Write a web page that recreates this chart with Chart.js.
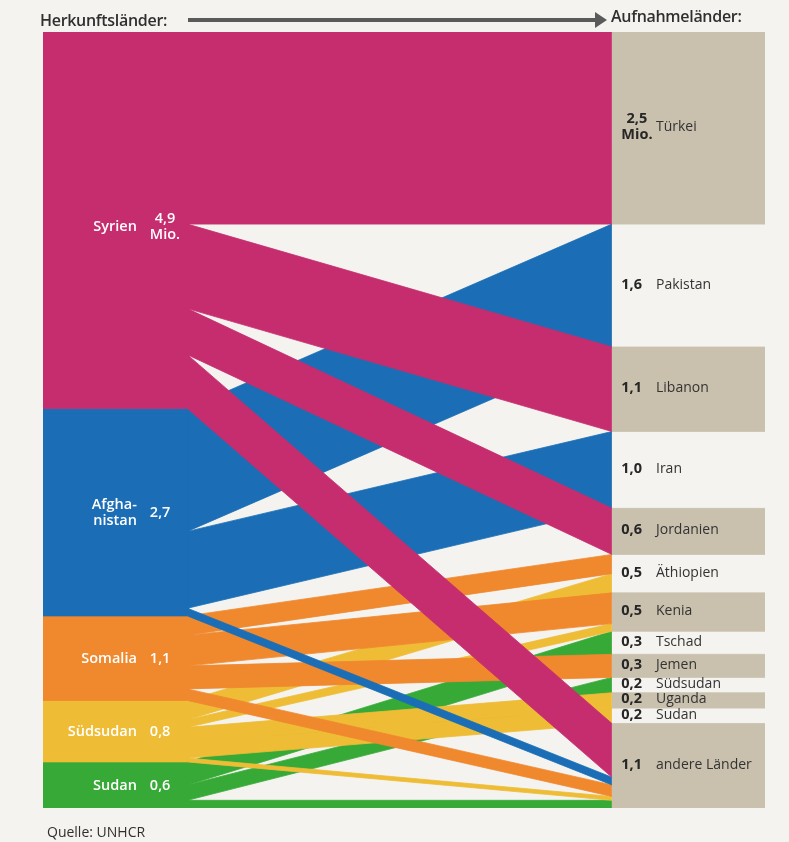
<!DOCTYPE html>
<html lang="de">
<head>
<meta charset="utf-8">
<title>Herkunftsländer und Aufnahmeländer</title>
<script src="https://cdn.jsdelivr.net/npm/chart.js@4.4.1/dist/chart.umd.min.js"></script>
<style>
  html, body { margin: 0; padding: 0; background: #f4f3ef; }
  #wrap {
    position: relative; width: 789px; height: 842px; overflow: hidden;
    font-family: 'Open Sans', 'Noto Sans', sans-serif;
  }
  #sankey { position: absolute; left: 0; top: 0; }
  #labels { position: absolute; left: 0; top: 0; width: 789px; height: 842px; pointer-events: none; }
  .hdr { position: absolute; top: 9px; font-size: 16px; font-weight: 600; color: #2f2f2f; letter-spacing: -0.3px; }
  .arrow { position: absolute; left: 188px; top: 18px; width: 408px; height: 4px; background: #5a5a5a; }
  .arrow::after {
    content: ''; position: absolute; right: -11px; top: -6px;
    border-left: 12px solid #5a5a5a; border-top: 8px solid transparent; border-bottom: 8px solid transparent;
  }
  .src { position: absolute; font-size: 14px; color: #2f2f2f; left: 47px; top: 822px; }
  .lbl { position: absolute; transform: translateY(-50%); line-height: 1.12; white-space: nowrap; }
  .l-name { color: #fff; font-size: 14.5px; font-weight: 600; text-align: right; }
  .l-val { color: #fff; font-size: 14.5px; font-weight: 600; text-align: center; }
  .r-val { color: #262626; font-size: 14.5px; font-weight: 700; text-align: center; }
  .r-name { color: #333; font-size: 14px; }
</style>
</head>
<body>
<div id="wrap">
  <canvas id="sankey" width="789" height="842"></canvas>
  <div id="labels"></div>
  <div class="hdr" style="left:40px">Herkunftsländer:</div>
  <div class="arrow"></div>
  <div class="hdr" style="left:611px; top:5px">Aufnahmeländer:</div>
  <div class="src">Quelle: UNHCR</div>
</div>
<script>
/* ── Data (Mio. Flüchtlinge) ── */
const sources = ['Syrien', 'Afghanistan', 'Somalia', 'Südsudan', 'Sudan'];
const sourceNameLines = [['Syrien'], ['Afgha-', 'nistan'], ['Somalia'], ['Südsudan'], ['Sudan']];
const sourceValues = [4.9, 2.7, 1.1, 0.8, 0.6];
const sourceValueLines = [['4,9', 'Mio.'], ['2,7'], ['1,1'], ['0,8'], ['0,6']];
const sourceColors = ['#c52d6e', '#1b6eb6', '#f0882d', '#eebd35', '#37a937'];

const targets = ['Türkei', 'Pakistan', 'Libanon', 'Iran', 'Jordanien', 'Äthiopien', 'Kenia',
    'Tschad', 'Jemen', 'Südsudan', 'Uganda', 'Sudan', 'andere Länder'];
const targetValues = [2.5, 1.6, 1.1, 1.0, 0.6, 0.5, 0.5, 0.3, 0.3, 0.2, 0.2, 0.2, 1.1];
const targetValueLines = [['2,5', 'Mio.'], ['1,6'], ['1,1'], ['1,0'], ['0,6'], ['0,5'], ['0,5'],
    ['0,3'], ['0,3'], ['0,2'], ['0,2'], ['0,2'], ['1,1']];

// flows, listed by source then by target
const flowFrom  = [0, 0, 0, 0,   1, 1, 1,   2, 2, 2, 2,      3, 3, 3, 3, 3,          4, 4, 4];
const flowTo    = [0, 2, 4, 12,  1, 3, 12,  5, 6, 8, 12,     5, 6, 10, 11, 12,       7, 9, 12];
const flowValue = [2.5, 1.1, 0.6, 0.7,  1.6, 1.0, 0.1,  0.25, 0.4, 0.3, 0.15,  0.25, 0.1, 0.2, 0.2, 0.05,  0.3, 0.2, 0.1];

/* ── Layout constants (x in column units 0..1) ── */
const X_FLOW_L = 0.2;     // right edge of origin blocks
const X_FLOW_R = 0.788;   // left edge of host boxes
const SEAM = 0.003;       // overlap so blocks and bands join without a hairline
const BOX_COLOR = '#c9c1ae';
const TOTAL = sourceValues.reduce((a, b) => a + b, 0);

function cumulative(values) {
    let acc = 0;
    return values.map(v => { const s = acc; acc += v; return s; });
}
const srcStart = cumulative(sourceValues);
const tgtStart = cumulative(targetValues);

// a filled band = upper edge line + lower edge line filled to it
function band(x0, x1, top0, top1, bot0, bot1, color, order) {
    const base = { borderColor: color, borderWidth: 0.8, pointRadius: 0, order };
    return [
        { ...base, data: [{ x: x0, y: top0 }, { x: x1, y: top1 }], fill: false },
        { ...base, data: [{ x: x0, y: bot0 }, { x: x1, y: bot1 }], fill: '-1', backgroundColor: color }
    ];
}

function buildDatasets() {
    const sets = [];
    // host boxes (every other one beige)
    targetValues.forEach((v, i) => {
        if (i % 2 === 0) {
            const t = tgtStart[i];
            sets.push(...band(X_FLOW_R, 1, t, t, t + v, t + v, BOX_COLOR, 20));
        }
    });
    // origin blocks
    sourceValues.forEach((v, i) => {
        const s = srcStart[i];
        sets.push(...band(0, X_FLOW_L + SEAM, s, s, s + v, s + v, sourceColors[i], 10));
    });
    // flows
    const srcOff = [...srcStart];
    const tgtOff = [...tgtStart];
    flowValue.forEach((v, k) => {
        const s = flowFrom[k], t = flowTo[k];
        const a = srcOff[s], b = tgtOff[t];
        sets.push(...band(X_FLOW_L, X_FLOW_R, a, b, a + v, b + v, sourceColors[s], s));
        srcOff[s] += v;
        tgtOff[t] += v;
    });
    return sets;
}

/* ── HTML labels placed through the chart scales ── */
const LBL_SRC_NAME_X = 0.130;
const LBL_SRC_VAL_X = 0.148;
const LBL_TGT_VAL_X = 0.801;
const LBL_TGT_NAME_X = 0.849;

function addLabel(layer, cls, lines, x, y, alignRight) {
    const el = document.createElement('div');
    el.className = 'lbl ' + cls;
    el.innerHTML = lines.join('<br>');
    el.style.top = y + 'px';
    if (alignRight) el.style.right = (789 - x) + 'px';
    else el.style.left = x + 'px';
    layer.appendChild(el);
}

const labelPlugin = {
    id: 'nodeLabels',
    afterRender(chart) {
        const layer = document.getElementById('labels');
        layer.innerHTML = '';
        const xs = chart.scales.x, ys = chart.scales.y;
        sources.forEach((name, i) => {
            const y = ys.getPixelForValue(srcStart[i] + sourceValues[i] / 2) + (i === 0 ? 6 : 0);
            addLabel(layer, 'l-name', sourceNameLines[i], xs.getPixelForValue(LBL_SRC_NAME_X), y, true);
            addLabel(layer, 'l-val', sourceValueLines[i], xs.getPixelForValue(LBL_SRC_VAL_X), y, false);
        });
        targets.forEach((name, i) => {
            const y = ys.getPixelForValue(tgtStart[i] + targetValues[i] / 2) - 2;
            addLabel(layer, 'r-val', targetValueLines[i], xs.getPixelForValue(LBL_TGT_VAL_X), y, false);
            addLabel(layer, 'r-name', [name], xs.getPixelForValue(LBL_TGT_NAME_X), y, false);
        });
    }
};

new Chart(document.getElementById('sankey'), {
    type: 'line',
    data: { datasets: buildDatasets() },
    options: {
        responsive: false,
        animation: false,
        events: [],
        layout: { padding: { left: 43, right: 24, top: 32, bottom: 34 } },
        plugins: { legend: { display: false }, tooltip: { enabled: false } },
        scales: {
            x: { type: 'linear', min: 0, max: 1, display: false },
            y: { type: 'linear', min: 0, max: TOTAL, reverse: true, display: false }
        }
    },
    plugins: [labelPlugin]
});
</script>
</body>
</html>
